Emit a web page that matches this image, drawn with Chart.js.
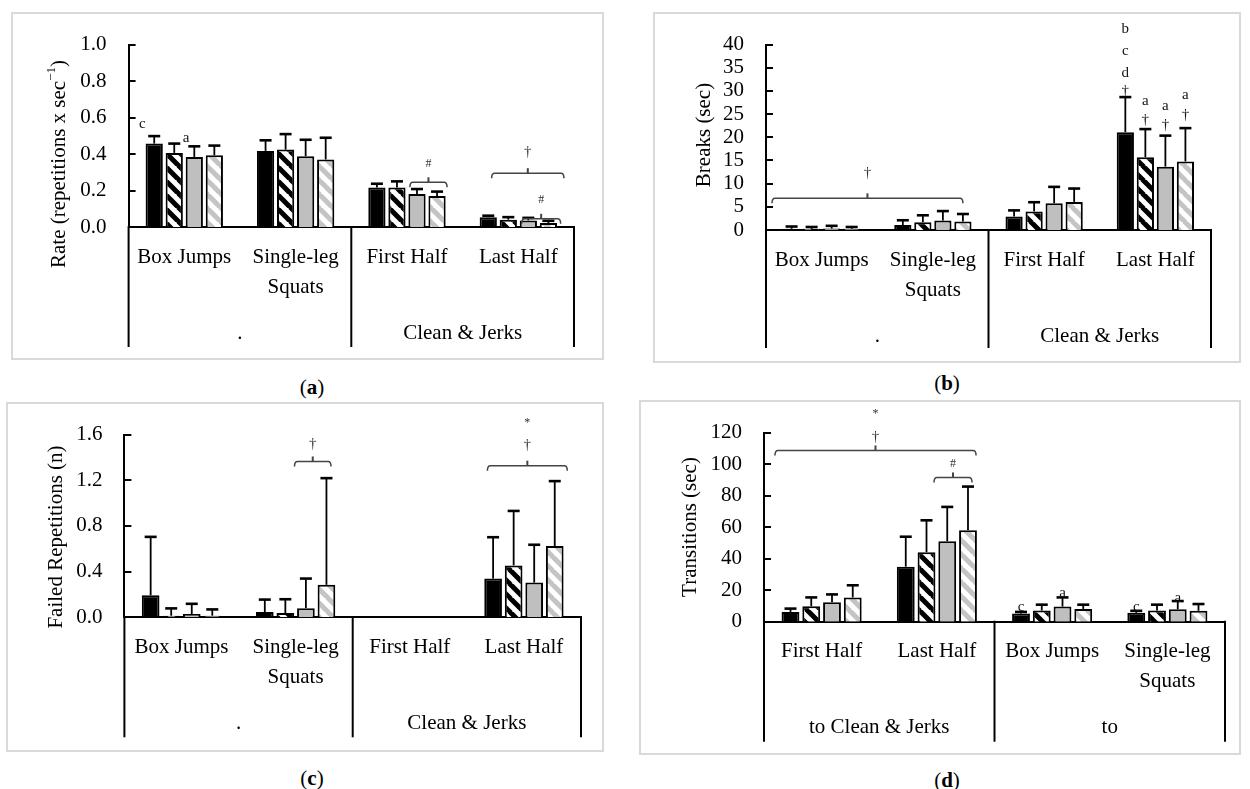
<!DOCTYPE html>
<html>
<head>
<meta charset="utf-8">
<script src="https://cdn.jsdelivr.net/npm/chart.js@4.4.1/dist/chart.umd.min.js"></script>
<style>
  html, body { margin: 0; padding: 0; background: #fff; }
  body { width: 1250px; height: 789px; position: relative; overflow: hidden;
         font-family: 'Liberation Serif', 'Times New Roman', serif; }
  .frame { position: absolute; border: 2px solid #d9d9d9; box-sizing: border-box; }
  .holder { position: absolute; }
  .cap { position: absolute; font-size: 21px; transform: translate(-50%, -50%); white-space: nowrap; color: #000; }
</style>
</head>
<body>
<div class="cap" style="left:312px;top:387px">(<b>a</b>)</div>
<div class="cap" style="left:947px;top:383px">(<b>b</b>)</div>
<div class="cap" style="left:312px;top:778px">(<b>c</b>)</div>
<div class="cap" style="left:947px;top:780px">(<b>d</b>)</div>
<script>
// ---------------- DATA ----------------
// (a) Rate
const rateLabels = ['Box Jumps', ['Single-leg', 'Squats'], 'First Half', 'Last Half'];
const rateGroups = ['.', 'Clean & Jerks'];
const rateAxis = [0, 1.0, 0.2];
const rateMean1 = [0.457, 0.417, 0.217, 0.054];
const rateMean2 = [0.406, 0.424, 0.217, 0.040];
const rateMean3 = [0.384, 0.388, 0.181, 0.036];
const rateMean4 = [0.393, 0.370, 0.170, 0.022];
const rateSd1 = [0.041, 0.058, 0.020, 0.008];
const rateSd2 = [0.051, 0.085, 0.033, 0.014];
const rateSd3 = [0.058, 0.090, 0.027, 0.014];
const rateSd4 = [0.053, 0.119, 0.024, 0.012];

// (b) Breaks
const breakLabels = ['Box Jumps', ['Single-leg', 'Squats'], 'First Half', 'Last Half'];
const breakGroups = ['.', 'Clean & Jerks'];
const breakAxis = [0, 40, 5];
const breakMean1 = [0.25, 1.06, 2.89, 21.1];
const breakMean2 = [0.25, 1.69, 4.01, 15.7];
const breakMean3 = [0.3, 2.04, 5.77, 13.66];
const breakMean4 = [0.25, 1.83, 6.06, 14.79];
const breakSd1 = [0.5, 1.04, 1.34, 7.56];
const breakSd2 = [0.4, 1.48, 1.98, 6.06];
const breakSd3 = [0.6, 2.04, 3.53, 6.69];
const breakSd4 = [0.4, 1.62, 2.88, 7.18];

// (c) Failed repetitions
const failLabels = ['Box Jumps', ['Single-leg', 'Squats'], 'First Half', 'Last Half'];
const failGroups = ['.', 'Clean & Jerks'];
const failAxis = [0, 1.6, 0.4];
const failMean1 = [0.192, 0.046, 0, 0.339];
const failMean2 = [0.014, 0.037, 0, 0.454];
const failMean3 = [0.029, 0.080, 0, 0.304];
const failMean4 = [0.014, 0.284, 0, 0.623];
const failSd1 = [0.512, 0.109, 0, 0.362];
const failSd2 = [0.064, 0.121, 0, 0.477];
const failSd3 = [0.089, 0.259, 0, 0.331];
const failSd4 = [0.055, 0.934, 0, 0.569];

// (d) Transitions
const transLabels = ['First Half', 'Last Half', 'Box Jumps', ['Single-leg', 'Squats']];
const transGroups = ['to Clean & Jerks', 'to'];
const transAxis = [0, 120, 20];
const transMean1 = [6.2, 34.9, 5.2, 5.6];
const transMean2 = [9.8, 44.1, 7.1, 7.1];
const transMean3 = [12.3, 51.0, 9.6, 7.9];
const transMean4 = [15.4, 58.0, 8.1, 6.9];
const transSd1 = [2.1, 19.0, 1.0, 1.3];
const transSd2 = [5.6, 20.2, 3.7, 3.7];
const transSd3 = [5.0, 21.8, 5.8, 5.2];
const transSd4 = [7.7, 27.7, 2.7, 4.3];

// significance letters: category, series, value, text, side
const rateNotes = [
  {cat: 0, s: 0, v: 0.565, t: 'c', side: 'left'},
  {cat: 0, s: 1, v: 0.488, t: 'a', side: 'right'}
];
const breakNotes = [
  {cat: 3, s: 0, v: 43.3, t: 'b'}, {cat: 3, s: 0, v: 38.5, t: 'c'},
  {cat: 3, s: 0, v: 33.8, t: 'd'}, {cat: 3, s: 0, v: 29.9, t: '†'},
  {cat: 3, s: 1, v: 27.8, t: 'a'}, {cat: 3, s: 1, v: 23.6, t: '†'},
  {cat: 3, s: 2, v: 26.8, t: 'a'}, {cat: 3, s: 2, v: 22.7, t: '†'},
  {cat: 3, s: 3, v: 29.2, t: 'a'}, {cat: 3, s: 3, v: 24.8, t: '†'}
];
const failNotes = [];
const transNotes = [
  {cat: 2, s: 0, v: 9.4, t: 'c'}, {cat: 2, s: 2, v: 18.1, t: 'a'},
  {cat: 3, s: 0, v: 9.4, t: 'c'}, {cat: 3, s: 2, v: 15.2, t: 'a'}
];
// brackets: span in category units, level value, marks [text, value]
const rateBrackets = [
  {from: 2.026, to: 2.36, v: 0.245, marks: [['#', 0.348]]},
  {from: 2.76, to: 3.41, v: 0.295, marks: [['†', 0.41]]},
  {from: 3.03, to: 3.38, v: 0.045, marks: [['#', 0.149]]}
];
const breakBrackets = [
  {from: -0.446, to: 1.27, v: 6.83, marks: [['†', 12.2]]}
];
const failBrackets = [
  {from: 0.99, to: 1.31, v: 1.364, marks: [['†', 1.514]]},
  {from: 2.68, to: 3.38, v: 1.327, marks: [['†', 1.508], ['*', 1.706]]}
];
const transBrackets = [
  {from: -0.405, to: 1.34, v: 108.6, marks: [['†', 116.9], ['*', 131.6]]},
  {from: 0.975, to: 1.305, v: 91.5, marks: [['#', 100.4]]}
];

// ---------------- DRAWING ----------------
const FONT = "'Liberation Serif', 'Times New Roman', serif";
Chart.defaults.font.family = FONT;

function stripes(color, T, lw) {
  const c = document.createElement('canvas');
  c.width = T; c.height = T;
  const g = c.getContext('2d');
  g.fillStyle = '#ffffff'; g.fillRect(0, 0, T, T);
  g.strokeStyle = color; g.lineWidth = lw;
  g.beginPath();
  for (let k = -1; k <= 1; k++) { g.moveTo(k * T - 1, -1); g.lineTo(k * T + T + 1, T + 1); }
  g.stroke();
  return g.createPattern(c, 'repeat');
}

const decor = {
  id: 'decor',
  afterDraw(chart) {
    const o = chart.options.plugins.decor;
    const ctx = chart.ctx, ca = chart.chartArea;
    const xs = chart.scales.x, ys = chart.scales.y;
    ctx.save();
    ctx.strokeStyle = '#000'; ctx.lineWidth = 2;
    // inward tick marks
    ys.ticks.forEach(t => {
      const py = Math.round(ys.getPixelForValue(t.value));
      ctx.beginPath(); ctx.moveTo(ca.left, py); ctx.lineTo(ca.left + 7, py); ctx.stroke();
    });
    // category box separators
    [ca.left, xs.getPixelForValue(1.5), ca.right].forEach(px => {
      ctx.beginPath(); ctx.moveTo(px, ca.bottom - 1); ctx.lineTo(px, ca.bottom + o.sepLen); ctx.stroke();
    });
    // error bars
    chart.data.datasets.forEach((ds, di) => {
      chart.getDatasetMeta(di).data.forEach((bar, i) => {
        const sd = ds.errors[i];
        if (!sd) return;
        const yTop = ys.getPixelForValue(ds.data[i] + sd);
        ctx.strokeStyle = '#000';
        ctx.lineWidth = 1.8;
        ctx.beginPath(); ctx.moveTo(bar.x, bar.y); ctx.lineTo(bar.x, yTop); ctx.stroke();
        ctx.lineWidth = 2.6;
        ctx.beginPath(); ctx.moveTo(bar.x - 6, yTop); ctx.lineTo(bar.x + 6, yTop); ctx.stroke();
      });
    });
    // brackets
    o.brackets.forEach(b => {
      const x1 = xs.getPixelForValue(b.from), x2 = xs.getPixelForValue(b.to);
      const py = ys.getPixelForValue(b.v);
      ctx.strokeStyle = '#444'; ctx.lineWidth = 1.5;
      ctx.beginPath();
      ctx.moveTo(x1, py + 5);
      ctx.quadraticCurveTo(x1, py, x1 + 3, py);
      ctx.lineTo(x2 - 3, py);
      ctx.quadraticCurveTo(x2, py, x2, py + 5);
      ctx.stroke();
      const xm = (x1 + x2) / 2;
      ctx.lineWidth = 2;
      ctx.beginPath(); ctx.moveTo(xm, py); ctx.lineTo(xm, py - 5); ctx.stroke();
      ctx.fillStyle = '#333'; ctx.textAlign = 'center'; ctx.textBaseline = 'middle';
      b.marks.forEach(([t, v]) => {
        ctx.font = ((t === '#' || t === '*') ? 12 : 15) + 'px ' + FONT;
        ctx.fillText(t, xm, ys.getPixelForValue(v));
      });
    });
    // letters
    o.notes.forEach(n => {
      const bar = chart.getDatasetMeta(n.s).data[n.cat];
      let px = bar.x, align = 'center';
      if (n.side === 'left') { px = bar.x - bar.width / 2; align = 'right'; }
      if (n.side === 'right') { px = bar.x + bar.width / 2; align = 'left'; }
      ctx.font = '15px ' + FONT;
      ctx.fillStyle = '#111'; ctx.textAlign = align; ctx.textBaseline = 'middle';
      ctx.fillText(n.t, px, ys.getPixelForValue(n.v));
    });
    // axis title (rotated)
    ctx.translate(o.titleX, o.titleY);
    ctx.rotate(-Math.PI / 2);
    ctx.fillStyle = '#000'; ctx.textBaseline = 'middle'; ctx.textAlign = 'left';
    let total = 0;
    o.title.forEach(([txt, sup]) => { ctx.font = (sup ? 13 : 21) + 'px ' + FONT; total += ctx.measureText(txt).width; });
    let cx = -total / 2;
    o.title.forEach(([txt, sup]) => {
      ctx.font = (sup ? 13 : 21) + 'px ' + FONT;
      ctx.fillText(txt, cx, sup ? -7 : 0);
      cx += ctx.measureText(txt).width;
    });
    ctx.restore();
  }
};

function makePanel(p) {
  const frame = document.createElement('div');
  frame.className = 'frame';
  Object.assign(frame.style, {left: p.left + 'px', top: p.top + 'px', width: p.w + 'px', height: p.h + 'px'});
  document.body.appendChild(frame);
  const holder = document.createElement('div');
  holder.className = 'holder';
  Object.assign(holder.style, {left: p.left + 'px', top: p.top + 'px', width: p.w + 'px', height: p.h + 'px'});
  const cv = document.createElement('canvas');
  cv.width = p.w; cv.height = p.h;
  cv.style.width = p.w + 'px'; cv.style.height = p.h + 'px';
  holder.appendChild(cv);
  document.body.appendChild(holder);

  const fills = ['#000000', stripes('#000000', 14, 5), '#bfbfbf', stripes('#c4c4c4', 14, 5)];
  const datasets = p.means.map((m, i) => ({
    data: m,
    errors: p.sds[i],
    backgroundColor: fills[i],
    borderColor: '#000',
    borderWidth: 2,
    categoryPercentage: 0.72,
    barPercentage: 0.86
  }));
  const tickFont = {family: FONT, size: 21, lineHeight: 30 / 21};
  new Chart(cv, {
    type: 'bar',
    data: {labels: p.labels, datasets},
    options: {
      responsive: false,
      animation: false,
      devicePixelRatio: 1,
      layout: {padding: {left: 0, right: p.padR, top: p.padT, bottom: p.padB}},
      plugins: {
        legend: {display: false},
        tooltip: {enabled: false},
        decor: {sepLen: p.sepLen, brackets: p.brackets, notes: p.notes, title: p.title, titleX: p.titleX, titleY: p.titleY}
      },
      scales: {
        x: {
          type: 'category', position: 'bottom', offset: true, weight: 0,
          grid: {display: false, drawTicks: false},
          border: {display: true, color: '#000', width: 2},
          ticks: {font: tickFont, color: '#000', padding: 15, maxRotation: 0, minRotation: 0, autoSkip: false},
          afterFit: s => { s.height = 90; }
        },
        x2: {
          type: 'category', position: 'bottom', labels: p.groups, offset: true, weight: 1,
          grid: {display: false, drawTicks: false},
          border: {display: false},
          ticks: {font: tickFont, color: '#000', padding: 1, maxRotation: 0, minRotation: 0, autoSkip: false},
          afterFit: s => { s.height = 30; }
        },
        y: {
          min: p.axis[0], max: p.axis[1],
          grid: {display: false, drawTicks: false},
          border: {display: true, color: '#000', width: 2},
          ticks: {stepSize: p.axis[2], autoSkip: false, font: {family: FONT, size: 21, lineHeight: 1}, color: '#000', padding: 22,
                  callback: v => Number(v).toFixed(p.dec)},
          afterFit: s => { s.width = p.yW; }
        }
      }
    },
    plugins: [decor]
  });
}

makePanel({
  left: 11, top: 12, w: 593, h: 348, yW: 117.6, padR: 30, padT: 31, padB: 13, sepLen: 120,
  labels: rateLabels, groups: rateGroups, axis: rateAxis, dec: 1,
  means: [rateMean1, rateMean2, rateMean3, rateMean4], sds: [rateSd1, rateSd2, rateSd3, rateSd4],
  notes: rateNotes, brackets: rateBrackets,
  title: [['Rate (repetitions x sec', false], ['\u22121', true], [')', false]], titleX: 48, titleY: 152
});
makePanel({
  left: 653, top: 12, w: 588, h: 351, yW: 113, padR: 30, padT: 29, padB: 13, sepLen: 118,
  labels: breakLabels, groups: breakGroups, axis: breakAxis, dec: 0,
  means: [breakMean1, breakMean2, breakMean3, breakMean4], sds: [breakSd1, breakSd2, breakSd3, breakSd4],
  notes: breakNotes, brackets: breakBrackets,
  title: [['Breaks (sec)', false]], titleX: 51, titleY: 123
});
makePanel({
  left: 6, top: 402, w: 598, h: 350, yW: 118.4, padR: 23, padT: 29.7, padB: 14.7, sepLen: 120,
  labels: failLabels, groups: failGroups, axis: failAxis, dec: 1,
  means: [failMean1, failMean2, failMean3, failMean4], sds: [failSd1, failSd2, failSd3, failSd4],
  notes: failNotes, brackets: failBrackets,
  title: [['Failed Repetitions (n)', false]], titleX: 50, titleY: 135
});
makePanel({
  left: 639, top: 400, w: 602, h: 355, yW: 125, padR: 16, padT: 29, padB: 13.3, sepLen: 120,
  labels: transLabels, groups: transGroups, axis: transAxis, dec: 0,
  means: [transMean1, transMean2, transMean3, transMean4], sds: [transSd1, transSd2, transSd3, transSd4],
  notes: transNotes, brackets: transBrackets,
  title: [['Transitions (sec)', false]], titleX: 51, titleY: 127
});
</script>
</body>
</html>
